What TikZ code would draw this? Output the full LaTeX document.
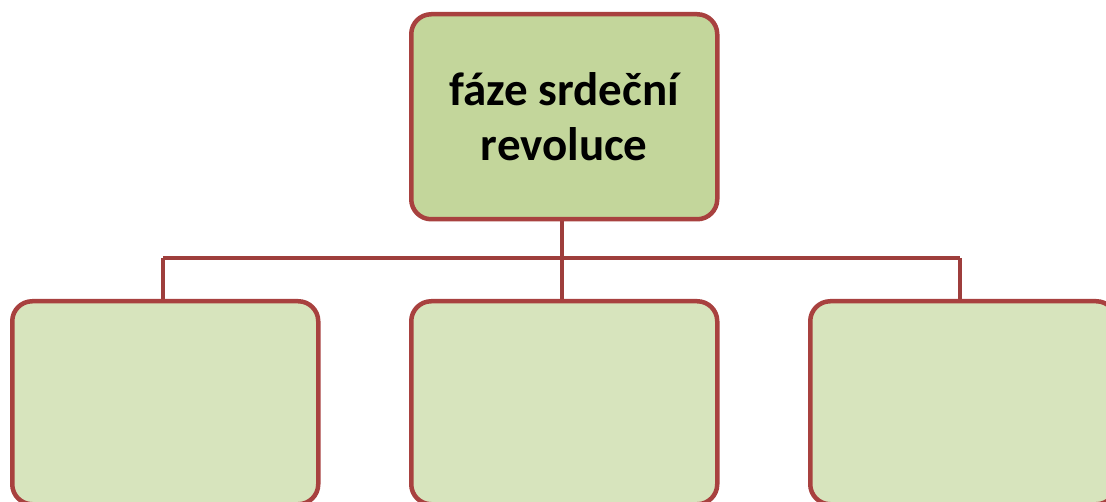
\documentclass[tikz,border=0pt]{standalone}
\usepackage{fontspec}
\setmainfont{Carlito}
\definecolor{bordc}{HTML}{A8413F}
\definecolor{linec}{HTML}{9E3E3C}
\definecolor{topfill}{HTML}{C3D69B}
\definecolor{botfill}{HTML}{D7E4BD}
\tikzset{
  box/.style={draw=bordc, line width=4.5pt, rounded corners=20pt, inner sep=0pt,
    anchor=north west, align=center, font=\fontsize{47}{55}\selectfont\bfseries},
  topbox/.style={box, fill=topfill, minimum width=306pt, minimum height=205pt},
  botbox/.style={box, fill=botfill, minimum width=306pt, minimum height=203pt},
  conn/.style={draw=linec, line width=4.5pt}
}
\begin{document}
\begin{tikzpicture}[x=1pt,y=-1pt]
  \useasboundingbox (0,0) rectangle (1106,502);
  \coordinate (hl) at (163,258);
  \coordinate (hm) at (562,258);
  \coordinate (hr) at (960,258);
  \draw[conn] (562,217) -- (hm);
  \draw[conn] (hl) -- (hr);
  \draw[conn] (hl) -- (163,299);
  \draw[conn] (hm) -- (562,299);
  \draw[conn] (hr) -- (960,299);
  \node[topbox] (top) at (409,12) {fáze srdeční\\revoluce};
  \node[botbox] (b1) at (10,299) {};
  \node[botbox] (b2) at (409,299) {};
  \node[botbox] (b3) at (808,299) {};
\end{tikzpicture}
\end{document}
